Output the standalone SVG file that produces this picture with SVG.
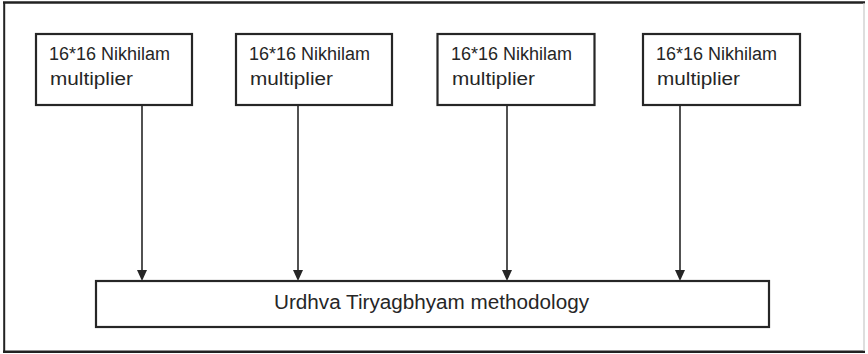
<svg xmlns="http://www.w3.org/2000/svg" width="868" height="354" viewBox="0 0 868 354">
  <style>
    .box { fill: #ffffff; stroke: #262626; stroke-width: 2.2; }
    .lbl { font-family: "Liberation Sans", Arial, sans-serif; font-size: 18px; fill: #262626; }
    .big { font-family: "Liberation Sans", Arial, sans-serif; font-size: 20px; fill: #262626; }
    .wire { stroke: #262626; stroke-width: 1.6; fill: none; }
    .head { fill: #262626; }
  </style>
  <rect width="868" height="354" fill="#ffffff"/>

  <!-- outer frame -->
  <g id="frame">
    <line x1="3" y1="2.5" x2="865" y2="2.5" stroke="#222" stroke-width="2.5"/>
    <line x1="4.2" y1="2" x2="4.2" y2="353" stroke="#222" stroke-width="2"/>
    <line x1="3" y1="351.8" x2="865" y2="351.8" stroke="#222" stroke-width="2.5"/>
    <line x1="864" y1="3" x2="864" y2="351" stroke="#c8c8c8" stroke-width="1.2"/>
  </g>

  <!-- connectors: each multiplier feeds the Urdhva block -->
  <g id="connectors">
    <line class="wire" x1="142" y1="106" x2="142" y2="270"/>
    <path class="head" d="M137,270 L147,270 L142,281 Z"/>
    <line class="wire" x1="298" y1="106" x2="298" y2="270"/>
    <path class="head" d="M293,270 L303,270 L298,281 Z"/>
    <line class="wire" x1="507" y1="106" x2="507" y2="270"/>
    <path class="head" d="M502,270 L512,270 L507,281 Z"/>
    <line class="wire" x1="680" y1="106" x2="680" y2="270"/>
    <path class="head" d="M675,270 L685,270 L680,281 Z"/>
  </g>

  <g id="nikhilam1">
    <rect class="box" x="36" y="34" width="156" height="71"/>
    <text class="lbl" x="49" y="60" textLength="121" lengthAdjust="spacingAndGlyphs">16*16 Nikhilam</text>
    <text class="lbl" x="50" y="85" textLength="83" lengthAdjust="spacingAndGlyphs">multiplier</text>
  </g>
  <g id="nikhilam2">
    <rect class="box" x="236" y="34" width="156" height="71"/>
    <text class="lbl" x="249" y="60" textLength="121" lengthAdjust="spacingAndGlyphs">16*16 Nikhilam</text>
    <text class="lbl" x="250" y="85" textLength="83" lengthAdjust="spacingAndGlyphs">multiplier</text>
  </g>
  <g id="nikhilam3">
    <rect class="box" x="437.5" y="34" width="157" height="71"/>
    <text class="lbl" x="451" y="60" textLength="121" lengthAdjust="spacingAndGlyphs">16*16 Nikhilam</text>
    <text class="lbl" x="452" y="85" textLength="83" lengthAdjust="spacingAndGlyphs">multiplier</text>
  </g>
  <g id="nikhilam4">
    <rect class="box" x="643" y="34" width="157" height="71"/>
    <text class="lbl" x="656" y="60" textLength="121" lengthAdjust="spacingAndGlyphs">16*16 Nikhilam</text>
    <text class="lbl" x="657" y="85" textLength="83" lengthAdjust="spacingAndGlyphs">multiplier</text>
  </g>

  <g id="urdhva">
    <rect class="box" x="96" y="281" width="673" height="46"/>
    <text class="big" x="274" y="309" textLength="315" lengthAdjust="spacingAndGlyphs">Urdhva Tiryagbhyam methodology</text>
  </g>
</svg>
